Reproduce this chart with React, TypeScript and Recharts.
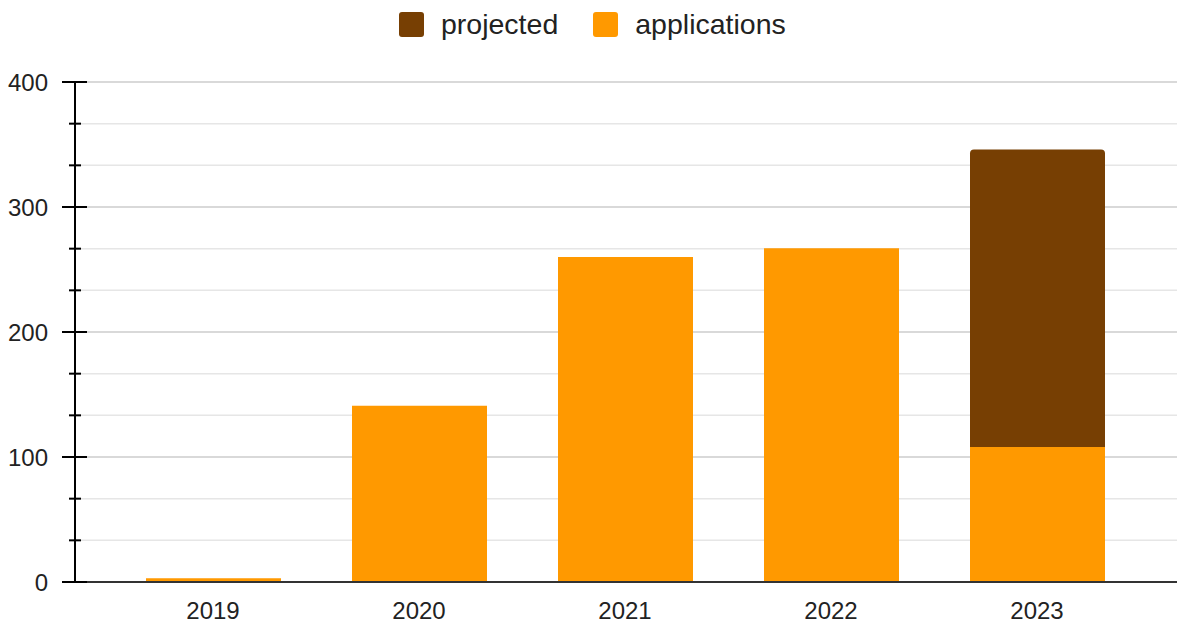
import { BarChart, Bar, XAxis, YAxis, CartesianGrid } from "recharts";

const years = ["2019", "2020", "2021", "2022", "2023"];
const applications = [3, 141, 260, 267, 108];
const projected = [0, 0, 0, 0, 238];

const majorTicks = [0, 100, 200, 300, 400];
const minorTicks = [33.33, 66.67, 133.33, 166.67, 233.33, 266.67, 333.33, 366.67];
const allTicks = [...majorTicks, ...minorTicks].sort((a, b) => a - b);

const legendItems = [
  { label: "projected", color: "#773f03" },
  { label: "applications", color: "#ff9900" },
];

const data = years.map((year, i) => ({
  year,
  applications: applications[i],
  projected: projected[i],
}));

const FONT = "'Liberation Sans', Arial, sans-serif";

const YTick = (props: any) => {
  const { x, y, payload } = props;
  const major = majorTicks.includes(payload.value);
  return (
    <g>
      <line
        x1={major ? x - 13 : x - 6}
        x2={major ? x + 12 : x + 6}
        y1={y}
        y2={y}
        stroke="#000"
        strokeWidth={2}
      />
      {major && (
        <text
          x={x - 27}
          y={y}
          textAnchor="end"
          dominantBaseline="central"
          fontSize={24}
          fontFamily={FONT}
          fill="#222"
        >
          {payload.value}
        </text>
      )}
    </g>
  );
};

const XTick = (props: any) => {
  const { x, y, payload } = props;
  return (
    <text
      x={x}
      y={y + 28}
      textAnchor="middle"
      dominantBaseline="central"
      fontSize={24}
      fontFamily={FONT}
      fill="#222"
    >
      {payload.value}
    </text>
  );
};

const App = () => {
  return (
    <div style={{ position: "absolute", left: 0, top: 0, width: 1177, height: 622, background: "#fff" }}>
      <div
        style={{
          position: "absolute",
          top: 12,
          left: 399,
          display: "flex",
          alignItems: "center",
          fontFamily: FONT,
          fontSize: 28.5,
          color: "#222",
          lineHeight: "25px",
        }}
      >
        {legendItems.map((item) => (
          <div key={item.label} style={{ display: "flex", alignItems: "center", marginRight: 35 }}>
            <div
              style={{
                width: 25,
                height: 25,
                borderRadius: 3,
                background: item.color,
                marginRight: 17,
              }}
            />
            <span>{item.label}</span>
          </div>
        ))}
      </div>
      <BarChart
        width={1177}
        height={622}
        data={data}
        margin={{ top: 82, right: 0, bottom: 0, left: 0 }}
      >
        <CartesianGrid
          vertical={false}
          horizontalValues={minorTicks}
          stroke="#e6e6e6"
          strokeWidth={1.5}
        />
        <CartesianGrid
          vertical={false}
          horizontalValues={majorTicks}
          stroke="#cccccc"
          strokeWidth={1.5}
        />
        <XAxis
          dataKey="year"
          height={40}
          padding={{ left: 35, right: 37 }}
          tickSize={0}
          tickMargin={0}
          tickLine={false}
          axisLine={{ stroke: "#333", strokeWidth: 2 }}
          tick={<XTick />}
          interval={0}
        />
        <YAxis
          width={75}
          domain={[0, 400]}
          ticks={allTicks}
          interval={0}
          tickSize={0}
          tickMargin={0}
          tickLine={false}
          axisLine={{ stroke: "#000", strokeWidth: 2 }}
          tick={<YTick />}
        />
        <Bar
          dataKey="applications"
          stackId="a"
          fill="#ff9900"
          barSize={135}
          isAnimationActive={false}
        />
        <Bar
          dataKey="projected"
          stackId="a"
          fill="#773f03"
          barSize={135}
          radius={[4, 4, 0, 0]}
          isAnimationActive={false}
        />
      </BarChart>
    </div>
  );
};

export default App;
